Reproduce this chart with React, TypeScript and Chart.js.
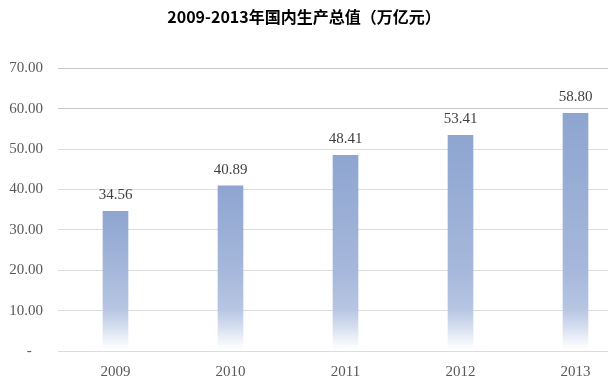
import React, { useEffect, useRef } from "react";
import { Chart, registerables } from "chart.js";

Chart.register(...registerables);

const categories = ["2009", "2010", "2011", "2012", "2013"];
const gdpValues = [34.56, 40.89, 48.41, 53.41, 58.8];
const yTickMax = 70;
const yTickStep = 10;
const titleText = "2009-2013年国内生产总值（万亿元）";

const serifFont = '"Liberation Serif", "DejaVu Serif", serif';

const valueLabelPlugin = {
  id: "valueLabels",
  afterDatasetsDraw(chart: any) {
    const ctx = chart.ctx;
    const meta = chart.getDatasetMeta(0);
    ctx.save();
    ctx.font = "15px " + serifFont;
    ctx.fillStyle = "#404040";
    ctx.textAlign = "center";
    ctx.textBaseline = "middle";
    meta.data.forEach((bar: any, i: number) => {
      const v = chart.data.datasets[0].data[i] as number;
      ctx.fillText(v.toFixed(2), bar.x, bar.y - 16);
    });
    ctx.restore();
  },
};

export default function App() {
  const ref = useRef<HTMLCanvasElement | null>(null);
  useEffect(() => {
    if (!ref.current) return;
    const chart = new Chart(ref.current, {
      type: "bar",
      data: {
        labels: categories,
        datasets: [
          {
            data: gdpValues,
            barThickness: 25,
            backgroundColor: (c: any) => {
              const ch = c.chart;
              const area = ch.chartArea;
              if (!area || c.dataIndex === undefined) return "#8fa6d1";
              const v = c.raw as number;
              const yTop = ch.scales.y.getPixelForValue(v);
              const yBot = ch.scales.y.getPixelForValue(0);
              const h = Math.max(1, yBot - yTop);
              const f = (d: number) => Math.min(1, Math.max(0, 1 - d / h));
              const g = ch.ctx.createLinearGradient(0, yTop, 0, yBot);
              g.addColorStop(0, "#8ea5d0");
              g.addColorStop(f(80), "#a6b8db");
              g.addColorStop(f(42), "#b6c5e2");
              g.addColorStop(f(22), "#d9e1f1");
              g.addColorStop(f(5), "#fafbfd");
              g.addColorStop(1, "#ffffff");
              return g;
            },
            borderWidth: 0,
          },
        ],
      },
      options: {
        responsive: false,
        maintainAspectRatio: false,
        animation: false,
        layout: { padding: { left: 0, right: 0, top: 0, bottom: 0 } },
        plugins: {
          legend: { display: false },
          tooltip: { enabled: false },
          title: {
            display: true,
            text: titleText,
            color: "#000000",
            font: {
              family: '"Noto Sans CJK SC", "Noto Sans", sans-serif',
              size: 16,
              weight: "bold",
            },
            padding: { top: 7, bottom: 42 },
          },
        },
        scales: {
          x: {
            grid: { display: false, drawTicks: false },
            border: { display: false },
            ticks: {
              color: "#595959",
              padding: 12,
              font: { family: serifFont, size: 15 },
            },
            afterFit: (s: any) => {
              s.height = 34;
            },
          },
          y: {
            min: 0,
            max: yTickMax,
            ticks: {
              stepSize: yTickStep,
              color: "#595959",
              padding: 15,
              font: { family: serifFont, size: 15 },
              callback: (v: any) => (Number(v) === 0 ? "-   " : Number(v).toFixed(2)),
            },
            grid: {
              drawTicks: false,
              color: (c: any) =>
                c.tick && c.tick.value >= 60 ? "#c6c6c6" : "#dcdcdc",
              lineWidth: 1,
            },
            border: { display: false },
            afterFit: (s: any) => {
              s.width = 83;
            },
          },
        },
      },
      plugins: [valueLabelPlugin],
    });
    return () => chart.destroy();
  }, []);
  return (
    <div
      style={{
        position: "fixed",
        left: 0,
        top: 0,
        width: 608,
        height: 385,
        overflow: "hidden",
        background: "#ffffff",
      }}
    >
      <canvas
        ref={ref}
        width={658}
        height={385}
        style={{ position: "absolute", left: -25, top: 0, width: 658, height: 385 }}
      />
    </div>
  );
}
